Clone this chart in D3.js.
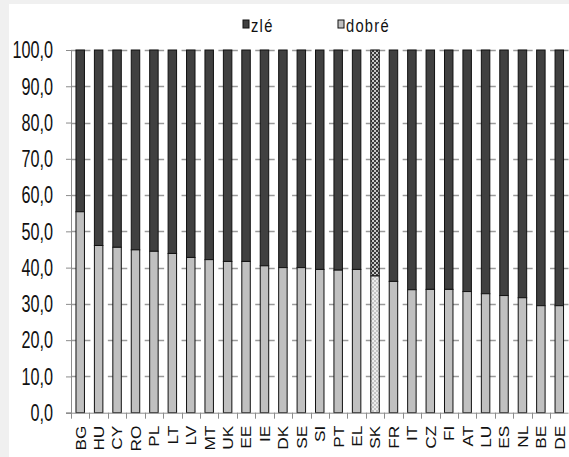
<!DOCTYPE html>
<html>
<head>
<meta charset="utf-8">
<script src="https://cdn.jsdelivr.net/npm/d3@7"></script>
<style>
  html, body { margin: 0; padding: 0; background: #f0f0f0; }
  svg { display: block; }
</style>
</head>
<body>
<svg id="chart" width="569" height="457"></svg>
<script>
// ---- data ----
const categories = ["BG","HU","CY","RO","PL","LT","LV","MT","UK","EE","IE","DK","SE","SI","PT","EL","SK","FR","IT","CZ","FI","AT","LU","ES","NL","BE","DE"];
const dobre = [55.4,46.1,45.6,44.9,44.5,43.9,42.8,42.2,41.7,41.7,40.5,40.0,40.0,39.5,39.3,39.5,37.7,36.2,33.9,34.0,34.0,33.4,32.8,32.3,31.7,29.5,29.5];
const zle = [44.6,53.9,54.4,55.1,55.5,56.1,57.2,57.8,58.3,58.3,59.5,60.0,60.0,60.5,60.7,60.5,62.3,63.8,66.1,66.0,66.0,66.6,67.2,67.7,68.3,70.5,70.5];
const seriesNames = ["zlé", "dobré"];
const yTicks = [0,10,20,30,40,50,60,70,80,90,100];
const highlighted = ["SK"];

const svg = d3.select("#chart");
// white chart area
svg.append("rect").attr("x", 9).attr("y", 4).attr("width", 560).attr("height", 453).attr("fill", "#fff");

// patterns for highlighted bar
const defs = svg.append("defs");
const pd = defs.append("pattern").attr("id", "patDark").attr("patternUnits", "userSpaceOnUse")
  .attr("width", 4).attr("height", 4);
pd.append("rect").attr("width", 4).attr("height", 4).attr("fill", "#3a3a3a");
pd.append("rect").attr("x", 0).attr("y", 0).attr("width", 2).attr("height", 2).attr("fill", "#c8c8c8");
pd.append("rect").attr("x", 2).attr("y", 2).attr("width", 2).attr("height", 2).attr("fill", "#c8c8c8");
const pl = defs.append("pattern").attr("id", "patLight").attr("patternUnits", "userSpaceOnUse")
  .attr("width", 4).attr("height", 4);
pl.append("rect").attr("width", 4).attr("height", 4).attr("fill", "#c4c4c4");
pl.append("rect").attr("x", 0).attr("y", 0).attr("width", 2).attr("height", 2).attr("fill", "#ececec");
pl.append("rect").attr("x", 2).attr("y", 2).attr("width", 2).attr("height", 2).attr("fill", "#ececec");

const x = d3.scaleBand().domain(categories).range([71, 568.5]).paddingInner(0.54).paddingOuter(0.27);
const y = d3.scaleLinear().domain([0, 100]).range([412.7, 50]);

// gridlines
const step = x.step();
svg.append("g").selectAll("line").data(yTicks.filter(t => t > 0)).join("line")
  .attr("x1", 71).attr("x2", 568.5)
  .attr("y1", d => Math.round(y(d)) + 0.5).attr("y2", d => Math.round(y(d)) + 0.5)
  .attr("stroke", "#9a9a9a").attr("stroke-width", 1.3)
  .attr("stroke-dasharray", `${step + 1},${step - 1}`);

// y axis
const yAxis = d3.axisLeft(y).tickValues(yTicks).tickSize(5).tickFormat(d => d3.format(".1f")(d).replace(".", ","));
const gy = svg.append("g").attr("transform", "translate(71,0)").call(yAxis);
gy.select(".domain").attr("stroke", "#8c8c8c");
gy.selectAll(".tick line").attr("stroke", "#8c8c8c");
gy.selectAll(".tick text").remove();
svg.append("g").selectAll("g").data(yTicks).join("g")
  .attr("transform", d => `translate(53,${y(d)}) scale(0.9,1.28)`)
  .append("text")
  .attr("text-anchor", "end").attr("dy", "0.36em")
  .attr("font-family", "Liberation Sans, Arial, sans-serif").attr("font-size", 18)
  .attr("fill", "#111")
  .text(d => d3.format(".1f")(d).replace(".", ","));

// bars
const bars = svg.append("g");
categories.forEach((c, i) => {
  const hl = highlighted.includes(c);
  bars.append("rect")
    .attr("x", x(c)).attr("width", x.bandwidth())
    .attr("y", y(dobre[i] + zle[i])).attr("height", y(dobre[i]) - y(dobre[i] + zle[i]))
    .attr("fill", hl ? "url(#patDark)" : "#404040").attr("stroke", "#111").attr("stroke-width", 1);
  bars.append("rect")
    .attr("x", x(c)).attr("width", x.bandwidth())
    .attr("y", y(dobre[i])).attr("height", y(0) - y(dobre[i]))
    .attr("fill", hl ? "url(#patLight)" : "#c0c0c0").attr("stroke", "#111").attr("stroke-width", 1);
});

// x axis
const gx = svg.append("g").attr("transform", `translate(0,${y(0)})`);
gx.append("line").attr("x1", 66).attr("x2", 568.5).attr("y1", 0.5).attr("y2", 0.5).attr("stroke", "#8c8c8c");
gx.selectAll("line.tk").data(d3.range(categories.length + 1)).join("line").attr("class", "tk")
  .attr("x1", i => Math.round(71 + i * step) + 0.5).attr("x2", i => Math.round(71 + i * step) + 0.5)
  .attr("y1", 0).attr("y2", 6).attr("stroke", "#8c8c8c");
gx.selectAll("g.lbl").data(categories).join("g").attr("class", "lbl")
  .attr("transform", d => `translate(${x(d) + x.bandwidth() / 2},13) rotate(-90) scale(1.15,1)`)
  .append("text")
  .attr("text-anchor", "end").attr("dy", "0.36em")
  .attr("font-family", "Liberation Sans, Arial, sans-serif").attr("font-size", 15)
  .attr("fill", "#111")
  .text(d => d);

// legend
const legend = svg.append("g");
const legX = [243, 338];
const legFill = ["#404040", "#c0c0c0"];
seriesNames.forEach((s, i) => {
  legend.append("rect").attr("x", legX[i]).attr("y", 20).attr("width", 6).attr("height", 8)
    .attr("fill", legFill[i]).attr("stroke", "#111").attr("stroke-width", 1);
  legend.append("g").attr("transform", `translate(${legX[i] + 8},25) scale(1.05,1.3)`)
    .append("text").attr("dy", "0.36em")
    .attr("font-family", "Liberation Sans, Arial, sans-serif").attr("font-size", 14)
    .attr("letter-spacing", 1.2)
    .attr("fill", "#111").text(s);
});
</script>
</body>
</html>
